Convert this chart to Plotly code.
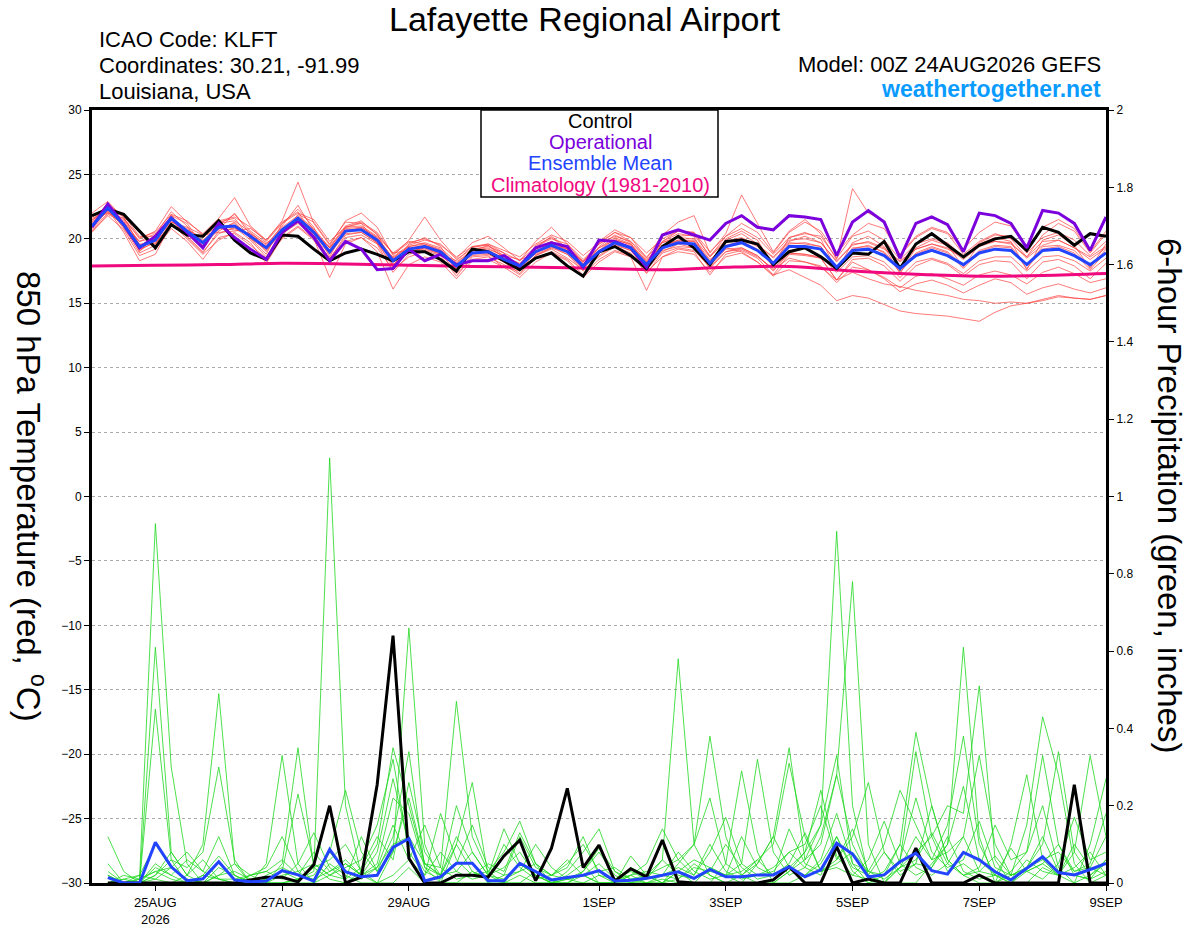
import pandas as pd
import plotly.graph_objects as go

# Time axis: GEFS 00Z 24AUG2026 run, 6-hourly out to 9SEP
times = pd.date_range("2026-08-24 00:00", "2026-09-09 00:00", freq="6h")
precip_times = times[1:]
clim_days = pd.date_range("2026-08-24", "2026-09-09", freq="D")

# 850 hPa temperature (C)
temp_control = [21.8, 22.3, 21.9, 20.6, 19.3, 21.1, 20.3, 20.2, 21.4, 19.9, 18.9, 18.4, 20.3, 20.2, 19.2, 18.3,
                18.9, 19.2, 18.8, 18.3, 19.0, 19.0, 18.4, 17.5, 19.2, 19.0, 18.3, 17.6, 18.5, 18.9, 17.9, 17.1,
                19.0, 19.4, 18.7, 17.7, 19.4, 20.2, 19.3, 18.0, 19.8, 19.9, 19.6, 18.0, 19.0, 19.3, 18.6, 17.7,
                18.9, 18.8, 19.8, 17.7, 19.6, 20.4, 19.5, 18.6, 19.5, 20.0, 20.2, 19.1, 20.9, 20.5, 19.5, 20.4, 20.2]
temp_oper = [20.9, 22.7, 21.1, 19.3, 20.2, 21.6, 20.5, 19.3, 21.2, 20.1, 19.2, 18.4, 20.5, 21.4, 20.1, 18.3,
             19.8, 19.2, 17.6, 17.7, 19.2, 18.3, 18.8, 18.0, 18.3, 18.3, 18.7, 17.9, 19.3, 19.7, 19.4, 17.8,
             19.9, 19.8, 19.3, 17.8, 20.3, 20.7, 20.3, 19.9, 21.2, 21.8, 20.9, 20.7, 21.8, 21.7, 21.5, 18.7,
             21.3, 22.2, 21.3, 18.5, 21.2, 21.7, 21.1, 19.0, 22.0, 21.8, 21.2, 19.3, 22.2, 22.0, 21.2, 19.1, 21.7]
temp_mean = [21.0, 22.4, 21.1, 19.4, 19.9, 21.6, 20.6, 19.7, 20.9, 21.0, 20.2, 19.3, 20.7, 21.6, 20.5, 19.0,
             20.6, 20.7, 19.9, 18.3, 19.2, 19.4, 19.0, 17.9, 18.9, 19.0, 18.4, 17.9, 19.0, 19.5, 19.0, 17.9,
             19.0, 19.7, 19.3, 18.0, 19.3, 19.7, 19.6, 18.1, 19.4, 19.7, 19.1, 18.1, 19.4, 19.4, 19.2, 17.8,
             19.1, 19.2, 18.7, 17.7, 18.7, 19.1, 18.7, 18.0, 18.9, 19.2, 19.1, 18.0, 19.1, 19.2, 18.7, 18.0, 18.9]
temp_clim = [17.9, 17.95, 18.0, 18.1, 18.05, 17.95, 17.85, 17.8, 17.7, 17.6, 17.8, 17.85, 17.5, 17.25, 17.1,
             17.15, 17.3]

# ensemble members, temperature
temp_m01 = [21.5, 22.0, 21.4, 19.0, 20.3, 22.1, 21.0, 19.2, 21.3, 21.6, 20.0, 18.8, 21.2, 22.3, 20.9, 18.6,
            20.9, 21.2, 20.4, 17.9, 19.6, 20.1, 19.4, 17.6, 19.3, 19.6, 18.9, 17.5, 19.5, 20.1, 19.2, 17.6,
            19.4, 20.3, 19.7, 17.6, 19.8, 20.4, 20.2, 17.9, 20.0, 20.6, 19.9, 17.9, 20.1, 20.5, 20.0, 17.5,
            19.7, 20.2, 19.4, 17.3, 19.3, 19.9, 19.5, 17.8, 19.6, 20.1, 19.8, 17.6, 19.9, 20.3, 19.5, 17.7, 19.6]
temp_m02 = [20.6, 21.8, 20.7, 18.7, 19.2, 20.8, 19.8, 18.4, 20.1, 20.4, 19.5, 18.5, 20.0, 20.9, 19.9, 18.2,
            19.8, 20.1, 19.3, 17.6, 18.6, 19.0, 18.5, 17.3, 18.4, 18.6, 18.0, 17.2, 18.5, 19.0, 18.4, 17.2,
            18.4, 19.1, 18.7, 17.4, 18.6, 19.0, 18.8, 17.4, 18.6, 18.9, 18.2, 17.1, 18.3, 18.2, 17.9, 16.6,
            17.8, 17.6, 16.9, 15.9, 16.5, 16.8, 16.4, 15.8, 16.4, 16.9, 16.6, 15.7, 16.2, 16.5, 16.1, 15.8, 16.2]
temp_m03 = [21.2, 22.6, 21.0, 19.8, 20.1, 21.4, 20.3, 19.9, 21.0, 20.8, 20.4, 19.6, 20.9, 21.8, 20.8, 19.3,
            20.8, 20.9, 20.1, 18.5, 19.4, 19.7, 19.3, 18.2, 19.1, 19.3, 18.6, 18.1, 19.2, 19.8, 19.1, 18.3,
            19.3, 19.9, 19.6, 18.3, 19.5, 19.9, 19.9, 18.4, 19.3, 19.0, 18.2, 17.2, 17.6, 17.0, 16.4, 15.2,
            15.6, 15.4, 14.9, 14.4, 14.2, 14.1, 14.0, 13.8, 13.6, 14.3, 14.8, 15.0, 15.3, 15.6, 15.4, 15.3, 15.6]
temp_m04 = [22.0, 22.9, 21.6, 20.0, 20.6, 22.5, 21.3, 20.4, 21.6, 23.2, 21.0, 19.9, 21.4, 24.4, 21.2, 19.5,
            21.4, 22.0, 20.9, 18.7, 19.9, 21.7, 19.9, 18.5, 19.7, 20.2, 19.3, 18.3, 19.8, 20.9, 19.6, 18.2,
            19.8, 20.7, 20.1, 18.5, 20.3, 21.3, 21.8, 18.9, 20.4, 23.4, 21.2, 19.0, 20.6, 21.5, 20.4, 18.4,
            23.9, 22.0, 21.4, 18.7, 20.1, 20.8, 20.4, 18.8, 19.8, 20.4, 20.0, 18.6, 20.3, 21.2, 20.6, 18.9, 20.4]
temp_m05 = [20.8, 22.2, 21.5, 19.6, 19.6, 21.3, 20.9, 20.3, 20.5, 20.6, 20.8, 19.9, 21.3, 22.1, 20.2, 19.4,
            21.0, 21.4, 20.3, 18.9, 19.1, 19.2, 18.8, 18.3, 19.4, 19.5, 18.7, 18.4, 18.8, 19.3, 19.4, 18.2,
            19.6, 20.5, 19.8, 18.6, 19.7, 20.2, 20.3, 18.7, 19.9, 20.4, 19.6, 18.5, 19.8, 20.2, 19.7, 18.3,
            19.5, 19.8, 19.3, 18.2, 19.2, 19.6, 19.3, 18.4, 19.4, 19.8, 19.7, 18.5, 19.5, 19.9, 19.3, 18.4, 19.3]
temp_m06 = [21.3, 22.8, 20.9, 18.9, 19.5, 21.9, 20.1, 18.9, 20.6, 21.3, 20.0, 19.2, 20.4, 21.2, 20.1, 18.5,
            20.1, 20.3, 19.6, 17.4, 18.8, 19.1, 18.7, 17.1, 18.6, 18.7, 17.8, 17.5, 18.7, 19.2, 18.5, 17.6,
            18.6, 19.4, 18.9, 17.3, 18.9, 19.3, 19.1, 17.8, 19.0, 19.2, 18.6, 17.7, 18.9, 18.8, 18.6, 17.4,
            18.6, 18.7, 18.2, 17.0, 18.2, 18.5, 18.1, 17.3, 18.3, 18.6, 18.6, 17.5, 18.6, 18.7, 18.3, 17.5, 18.5]
temp_m07 = [20.5, 21.9, 21.3, 19.8, 20.4, 21.0, 20.7, 20.1, 21.1, 21.9, 20.6, 19.7, 20.2, 21.9, 21.3, 19.6,
            21.3, 21.2, 19.6, 18.6, 19.5, 19.9, 19.6, 18.4, 19.2, 19.4, 18.9, 18.3, 19.4, 20.0, 19.6, 18.4,
            19.6, 20.2, 19.8, 18.4, 19.7, 20.1, 20.0, 18.6, 19.8, 20.1, 19.5, 18.6, 19.9, 20.0, 19.7, 18.2,
            19.6, 19.7, 19.2, 18.3, 19.2, 19.6, 19.2, 18.6, 19.6, 19.8, 19.6, 18.6, 19.8, 19.9, 19.3, 18.6, 19.4]
temp_m08 = [20.9, 22.3, 20.5, 18.3, 18.8, 21.2, 20.0, 18.8, 19.9, 20.5, 19.7, 18.1, 20.1, 21.0, 20.0, 17.0,
            19.6, 20.1, 19.0, 16.1, 18.0, 18.6, 18.2, 16.9, 18.3, 18.4, 17.8, 17.0, 18.2, 18.9, 18.3, 17.0,
            18.2, 19.0, 18.6, 16.0, 18.6, 19.2, 19.0, 17.2, 18.8, 19.1, 18.5, 17.2, 18.8, 18.7, 18.5, 16.8,
            18.4, 18.5, 17.9, 16.7, 17.9, 18.4, 18.0, 17.1, 18.0, 18.3, 18.2, 16.9, 18.2, 18.4, 17.9, 16.9, 18.1]
temp_m09 = [21.6, 22.1, 21.8, 20.2, 20.2, 21.8, 21.2, 19.4, 21.2, 21.4, 20.5, 19.5, 21.0, 22.6, 20.6, 19.3,
            20.9, 21.0, 20.2, 18.9, 19.8, 19.6, 19.2, 17.9, 19.0, 19.5, 18.5, 18.0, 19.3, 20.2, 19.3, 18.1,
            19.1, 20.0, 19.5, 18.2, 19.5, 19.8, 19.8, 18.3, 19.7, 20.0, 19.4, 18.2, 19.7, 19.6, 19.4, 17.7,
            19.3, 19.4, 19.0, 17.6, 18.9, 19.4, 19.0, 17.9, 19.1, 19.5, 19.4, 17.9, 19.4, 19.5, 19.1, 17.8, 19.2]
temp_m10 = [21.0, 22.5, 21.2, 19.1, 19.8, 21.5, 20.4, 19.5, 20.7, 22.0, 20.3, 19.0, 20.8, 21.4, 20.2, 18.8,
            20.4, 20.5, 19.7, 18.0, 19.0, 19.3, 18.9, 17.7, 18.8, 18.9, 18.2, 17.6, 18.9, 19.4, 18.8, 17.7,
            18.9, 19.6, 19.1, 17.8, 19.1, 19.4, 19.3, 17.9, 19.2, 19.3, 18.7, 17.6, 18.5, 18.2, 17.8, 16.8,
            17.4, 16.9, 16.5, 16.3, 16.0, 15.8, 15.6, 15.3, 15.2, 15.0, 15.1, 15.0, 15.2, 15.5, 15.4, 15.3, 15.6]
temp_m11 = [21.4, 22.7, 21.7, 19.5, 20.0, 21.7, 20.5, 19.6, 20.8, 21.2, 20.1, 19.1, 20.6, 21.7, 20.7, 18.9,
            20.7, 20.8, 20.0, 18.2, 19.3, 19.5, 19.1, 17.8, 18.9, 19.1, 18.5, 17.8, 19.1, 19.6, 19.2, 17.8,
            19.1, 19.8, 19.4, 17.9, 19.4, 19.9, 19.8, 18.0, 19.5, 19.8, 19.2, 17.9, 19.6, 19.7, 19.4, 17.6,
            19.2, 19.5, 18.9, 17.4, 18.8, 19.3, 18.9, 17.7, 19.0, 19.4, 19.3, 17.7, 19.2, 19.4, 18.9, 17.6, 19.0]
temp_m12 = [21.1, 22.1, 21.0, 19.5, 20.0, 21.3, 20.8, 19.8, 20.8, 20.7, 20.4, 19.4, 20.8, 21.4, 20.6, 19.3,
            20.5, 20.9, 20.1, 18.5, 19.4, 19.6, 19.1, 18.1, 19.1, 19.2, 18.7, 18.0, 19.2, 19.8, 19.2, 18.0,
            19.3, 20.1, 19.6, 18.2, 19.8, 20.6, 20.5, 18.6, 20.2, 21.2, 20.5, 18.9, 20.5, 21.3, 20.6, 18.9,
            20.3, 21.2, 20.8, 18.8, 20.2, 20.9, 20.5, 19.2, 20.5, 21.3, 21.0, 19.3, 20.9, 21.5, 20.8, 19.0, 20.6]
temp_m13 = [21.7, 22.4, 20.8, 19.2, 19.7, 21.1, 20.2, 19.0, 20.4, 20.9, 19.9, 18.6, 20.5, 21.3, 20.3, 18.4,
            20.3, 20.5, 19.7, 17.8, 19.0, 19.3, 18.8, 17.5, 18.7, 18.8, 18.2, 17.3, 18.7, 19.3, 18.8, 17.5,
            18.7, 19.5, 19.1, 17.6, 19.0, 19.6, 19.3, 17.7, 19.0, 19.3, 18.7, 17.5, 18.9, 18.8, 18.5, 16.8,
            18.2, 17.6, 17.0, 16.2, 17.1, 17.3, 16.9, 16.4, 17.2, 17.5, 17.2, 16.5, 17.4, 17.8, 17.3, 16.6, 16.9]
temp_m14 = [20.7, 22.0, 21.6, 20.1, 20.5, 21.9, 21.4, 20.3, 21.4, 21.7, 20.9, 19.8, 21.2, 22.0, 21.5, 19.8,
            20.9, 21.3, 20.5, 18.8, 19.7, 20.0, 19.5, 18.6, 19.4, 19.6, 19.1, 18.6, 19.6, 20.3, 19.8, 18.7,
            19.7, 20.5, 20.1, 18.9, 20.0, 20.6, 20.5, 19.0, 20.2, 20.8, 20.1, 18.8, 20.1, 20.4, 20.2, 18.5,
            20.2, 20.6, 19.9, 18.4, 19.6, 20.0, 19.7, 18.6, 19.7, 20.3, 20.2, 18.9, 20.1, 20.5, 19.9, 18.7, 19.8]

# 6-hour precipitation (inches), 06Z 24AUG .. 00Z 9SEP
precip_control = [0, 0, 0, 0, 0, 0, 0, 0, 0, 0.008, 0.015, 0.015, 0.003, 0.047, 0.20, 0,
                  0.015, 0.255, 0.64, 0.064, 0, 0, 0.02, 0.02, 0.015, 0.07, 0.111, 0.006, 0.09, 0.245, 0.04, 0.098,
                  0.005, 0.037, 0.016, 0.111, 0.003, 0, 0, 0, 0, 0, 0.008, 0.042, 0, 0, 0.094, 0,
                  0.01, 0, 0, 0.09, 0, 0, 0, 0.02, 0, 0, 0, 0, 0, 0.254, 0, 0]
precip_mean = [0.014, 0, 0, 0.105, 0.042, 0.006, 0.011, 0.055, 0.008, 0.003, 0.005, 0.032, 0.021, 0.005, 0.087, 0.029,
               0.016, 0.02, 0.092, 0.115, 0.005, 0.016, 0.051, 0.051, 0.006, 0.006, 0.051, 0.029, 0.008, 0.014, 0.02, 0.032,
               0.005, 0.007, 0.012, 0.02, 0.029, 0.012, 0.035, 0.016, 0.016, 0.021, 0.021, 0.042, 0.016, 0.034, 0.103, 0.075,
               0.016, 0.021, 0.055, 0.077, 0.032, 0.023, 0.079, 0.06, 0.029, 0.008, 0.038, 0.068, 0.027, 0.021, 0.035, 0.051]

# ensemble members, precipitation
precip_m01 = [0, 0, 0.01, 0.93, 0.30, 0.05, 0, 0, 0, 0, 0, 0, 0.01, 0.03, 1.10, 0.20,
              0.02, 0, 0, 0.04, 0, 0, 0, 0, 0, 0, 0.02, 0, 0, 0, 0, 0,
              0, 0, 0.01, 0.06, 0.58, 0.10, 0.02, 0, 0, 0, 0, 0.03, 0.08, 0.15, 0.91, 0.20,
              0.02, 0, 0, 0, 0.05, 0.10, 0.61, 0.12, 0, 0.03, 0.08, 0.20, 0.04, 0, 0.02, 0.05]
precip_m02 = [0.02, 0, 0, 0.61, 0.08, 0.02, 0.10, 0.49, 0.05, 0, 0, 0, 0, 0, 0.05, 0.02,
              0, 0, 0.08, 0.66, 0.10, 0, 0, 0.03, 0.01, 0, 0, 0, 0, 0, 0.02, 0,
              0, 0, 0, 0, 0.03, 0, 0.04, 0.02, 0, 0.05, 0.12, 0.35, 0.06, 0.10, 0.28, 0.78,
              0.10, 0, 0.04, 0.08, 0.12, 0.20, 0.18, 0.51, 0.06, 0, 0, 0.04, 0.02, 0, 0.10, 0.27]
precip_m03 = [0, 0, 0, 0.45, 0.06, 0.04, 0.08, 0.30, 0.06, 0, 0, 0.05, 0.35, 0.04, 0.01, 0,
              0.03, 0.10, 0.35, 0.20, 0.05, 0.04, 0.47, 0.12, 0.03, 0, 0.05, 0.02, 0, 0, 0.03, 0.08,
              0.02, 0, 0, 0.01, 0, 0, 0, 0.05, 0.29, 0.08, 0, 0, 0.02, 0.05, 0.12, 0.03,
              0, 0.02, 0.10, 0.39, 0.20, 0.06, 0.02, 0, 0, 0.02, 0.15, 0.43, 0.28, 0.05, 0, 0.02]
precip_m04 = [0.12, 0.03, 0, 0.02, 0.06, 0, 0, 0.04, 0.02, 0, 0.05, 0.33, 0.05, 0, 0.08, 0.24,
              0.08, 0.03, 0.12, 0.34, 0.04, 0, 0.10, 0.26, 0.02, 0, 0, 0.03, 0, 0.02, 0.05, 0,
              0, 0.02, 0, 0, 0.05, 0.10, 0.38, 0.12, 0.02, 0, 0, 0.03, 0.06, 0.15, 0.33, 0.05,
              0, 0, 0.04, 0.12, 0.06, 0.15, 0.38, 0.10, 0.02, 0, 0.04, 0.10, 0.34, 0.08, 0.02, 0.06]
precip_m05 = [0.05, 0, 0, 0.04, 0.02, 0.06, 0.03, 0.12, 0.02, 0, 0.01, 0.03, 0.23, 0.05, 0.02, 0.04,
              0.06, 0.15, 0.32, 0.08, 0.02, 0.18, 0.06, 0.02, 0.03, 0.08, 0.16, 0.05, 0, 0.01, 0, 0.02,
              0, 0.04, 0.02, 0, 0.03, 0.06, 0.04, 0.02, 0.05, 0.32, 0.08, 0.02, 0.04, 0.12, 0.28, 0.10,
              0.02, 0, 0.06, 0.34, 0.12, 0.03, 0.05, 0.02, 0, 0.10, 0.28, 0.06, 0.02, 0.08, 0.33, 0.12]
precip_m06 = [0, 0.02, 0.01, 0.03, 0.04, 0.08, 0.03, 0.01, 0, 0.02, 0.03, 0.01, 0.05, 0.13, 0.04, 0.01,
              0.12, 0.03, 0.08, 0.22, 0.05, 0.02, 0.20, 0.08, 0.02, 0.14, 0.05, 0.02, 0, 0.03, 0.08, 0.14,
              0.03, 0, 0.02, 0.04, 0.06, 0.10, 0.22, 0.05, 0.02, 0.06, 0.10, 0.31, 0.12, 0.03, 0.05, 0.08,
              0.03, 0.10, 0.24, 0.15, 0.06, 0.08, 0.12, 0.33, 0.10, 0.02, 0.04, 0.06, 0.08, 0.03, 0.05, 0.18]
precip_m07 = [0, 0, 0.02, 0.10, 0.04, 0.01, 0, 0.02, 0.05, 0.02, 0.04, 0.12, 0.03, 0, 0.02, 0.05,
              0.02, 0.08, 0.27, 0.10, 0.03, 0.01, 0.05, 0.15, 0.04, 0.02, 0.12, 0.04, 0.02, 0.05, 0.10, 0.03,
              0, 0.02, 0.05, 0.14, 0.06, 0.02, 0.08, 0.17, 0.05, 0.02, 0.04, 0.08, 0.10, 0.20, 0.06, 0.12,
              0.26, 0.08, 0.02, 0.05, 0.04, 0.10, 0.25, 0.06, 0.02, 0, 0.03, 0.05, 0.02, 0.10, 0.04, 0.02]
precip_m08 = [0, 0.01, 0.02, 0.01, 0, 0.02, 0.06, 0.01, 0, 0, 0.02, 0.04, 0.02, 0.08, 0.03, 0.06,
              0.02, 0.05, 0.22, 0.18, 0.04, 0.02, 0.12, 0.05, 0, 0.02, 0.03, 0.10, 0.04, 0.01, 0.03, 0.09,
              0.03, 0.01, 0, 0.02, 0.01, 0.05, 0.02, 0, 0.02, 0.05, 0.12, 0.04, 0.02, 0.06, 0.18, 0.05,
              0.03, 0.01, 0.04, 0.06, 0.13, 0.05, 0.02, 0.04, 0.15, 0.06, 0.08, 0.33, 0.10, 0.02, 0.01, 0.03]
precip_m09 = [0.03, 0, 0, 0.02, 0.08, 0.02, 0, 0, 0, 0.02, 0, 0, 0.01, 0.04, 0.06, 0.10,
              0.03, 0, 0.02, 0.06, 0.15, 0.04, 0.01, 0.02, 0.05, 0.03, 0.13, 0.05, 0.02, 0.06, 0.02, 0,
              0, 0.07, 0.02, 0, 0.01, 0.04, 0.03, 0.10, 0.04, 0.01, 0.02, 0.05, 0.13, 0.03, 0.04, 0.02,
              0.06, 0.16, 0.05, 0.02, 0.04, 0.12, 0.03, 0.01, 0.02, 0.09, 0.03, 0.01, 0.05, 0.17, 0.06, 0.08]
precip_m10 = [0, 0.01, 0, 0.05, 0.02, 0, 0.02, 0.07, 0.02, 0, 0.01, 0.03, 0.01, 0.02, 0.08, 0.03,
              0.01, 0.04, 0.15, 0.06, 0.02, 0.08, 0.03, 0.01, 0.02, 0.04, 0.08, 0.02, 0, 0.01, 0.02, 0.03,
              0.04, 0.01, 0.02, 0.06, 0.02, 0.01, 0.03, 0.02, 0.12, 0.04, 0.02, 0.14, 0.05, 0.03, 0.06, 0.14,
              0.03, 0.02, 0.06, 0.22, 0.08, 0.04, 0.06, 0.16, 0.04, 0.02, 0.03, 0.05, 0.10, 0.03, 0.04, 0.12]
precip_m11 = [0, 0, 0.01, 0.03, 0.01, 0, 0.02, 0.01, 0.01, 0.02, 0.03, 0.06, 0.02, 0.01, 0.03, 0.05,
              0.02, 0.04, 0.10, 0.12, 0.05, 0.02, 0.10, 0.03, 0.01, 0.10, 0.04, 0.01, 0.02, 0.04, 0.12, 0.02,
              0.01, 0.02, 0.03, 0.02, 0.08, 0.03, 0.01, 0.02, 0.03, 0.06, 0.02, 0.04, 0.08, 0.24, 0.07, 0.02,
              0.01, 0.03, 0.10, 0.04, 0.02, 0.05, 0.12, 0.03, 0.02, 0.01, 0.06, 0.03, 0.02, 0.04, 0.08, 0.02]
precip_m12 = [0.02, 0, 0, 0.01, 0.04, 0.01, 0, 0.02, 0.03, 0.01, 0, 0.02, 0.03, 0.05, 0.02, 0.01,
              0.04, 0.12, 0.06, 0.26, 0.08, 0.02, 0.03, 0.08, 0.02, 0.01, 0.03, 0.05, 0.02, 0.01, 0.02, 0.05,
              0.01, 0.03, 0.01, 0.02, 0.04, 0.02, 0.10, 0.03, 0.01, 0.02, 0.03, 0.08, 0.04, 0.02, 0.12, 0.04,
              0.02, 0.08, 0.03, 0.05, 0.20, 0.06, 0.02, 0.03, 0.07, 0.02, 0.04, 0.12, 0.03, 0.02, 0.01, 0.06]

tick_dates = ["2026-08-25", "2026-08-27", "2026-08-29", "2026-09-01", "2026-09-03",
              "2026-09-05", "2026-09-07", "2026-09-09"]
tick_labels = ["25AUG<br>2026", "27AUG", "29AUG", "1SEP", "3SEP", "5SEP", "7SEP", "9SEP"]

temp_members = [temp_m01, temp_m02, temp_m03, temp_m04, temp_m05, temp_m06, temp_m07,
                temp_m08, temp_m09, temp_m10, temp_m11, temp_m12, temp_m13, temp_m14]
precip_members = [precip_m01, precip_m02, precip_m03, precip_m04, precip_m05, precip_m06,
                  precip_m07, precip_m08, precip_m09, precip_m10, precip_m11, precip_m12]

FONT = "Liberation Sans, Arial, Helvetica, sans-serif"
# plot area in pixels: x 92..1106, y 110..883
W, H = 1200, 927
L, R, T, B = 92, 1106, 110, 883


def px(x):
    return (x - L) / (R - L)


def py(y):
    return (B - y) / (B - T)


fig = go.Figure()

for m in temp_members:
    fig.add_trace(go.Scatter(x=times, y=m, mode="lines", line=dict(color="#FF3B3B", width=0.8),
                             opacity=0.85, showlegend=False, hoverinfo="skip"))
fig.add_trace(go.Scatter(x=clim_days, y=temp_clim, mode="lines",
                         line=dict(color="#F0087F", width=3, shape="spline"), showlegend=False))
fig.add_trace(go.Scatter(x=times, y=temp_control, mode="lines", line=dict(color="black", width=3),
                         showlegend=False))
fig.add_trace(go.Scatter(x=times, y=temp_oper, mode="lines", line=dict(color="#7A00DC", width=3),
                         showlegend=False))
fig.add_trace(go.Scatter(x=times, y=temp_mean, mode="lines", line=dict(color="#2244FF", width=3),
                         showlegend=False))

# precipitation on the right axis
for m in precip_members:
    fig.add_trace(go.Scatter(x=precip_times, y=m, yaxis="y2", mode="lines",
                             line=dict(color="#1FD81F", width=0.8), showlegend=False, hoverinfo="skip"))
fig.add_trace(go.Scatter(x=precip_times, y=precip_control, yaxis="y2", mode="lines",
                         line=dict(color="black", width=3), showlegend=False))
fig.add_trace(go.Scatter(x=precip_times, y=precip_mean, yaxis="y2", mode="lines",
                         line=dict(color="#2244FF", width=3), showlegend=False))

fig.update_layout(
    width=W, height=H,
    margin=dict(l=L, r=W - R, t=T, b=H - B, autoexpand=False),
    paper_bgcolor="white", plot_bgcolor="white",
    font=dict(family=FONT, color="black", size=12),
    showlegend=False,
    xaxis=dict(type="date", range=[times[0], times[-1]], tickvals=tick_dates, ticktext=tick_labels,
               showgrid=False, zeroline=False, showline=True, linewidth=3, linecolor="black",
               mirror=True, ticks="outside", ticklen=5, tickwidth=1, tickcolor="black",
               tickfont=dict(size=13), automargin=False),
    yaxis=dict(range=[-30, 30], tickvals=list(range(-30, 31, 5)), showgrid=True,
               gridcolor="#AAAAAA", griddash="dot", gridwidth=1, zeroline=False,
               showline=True, linewidth=3, linecolor="black", ticks="outside", ticklen=5,
               tickwidth=1, tickcolor="black", tickfont=dict(size=12), automargin=False),
    yaxis2=dict(range=[0, 2], overlaying="y", side="right",
                tickvals=[0, 0.2, 0.4, 0.6, 0.8, 1, 1.2, 1.4, 1.6, 1.8, 2],
                ticktext=["0", "0.2", "0.4", "0.6", "0.8", "1", "1.2", "1.4", "1.6", "1.8", "2"],
                showgrid=False, zeroline=False, showline=True, linewidth=3, linecolor="black",
                ticks="outside", ticklen=5, tickwidth=1, tickcolor="black", tickfont=dict(size=12),
                automargin=False),
)

# legend box
fig.add_shape(type="rect", xref="paper", yref="paper", x0=px(481), x1=px(718), y0=py(197), y1=py(110),
              fillcolor="white", line=dict(color="black", width=1.5), layer="above")

notes = [
    ("Control", "black", 121),
    ("Operational", "#7A00DC", 142),
    ("Ensemble Mean", "#2244FF", 163),
    ("Climatology (1981-2010)", "#F0087F", 185),
]
for txt, col, yy in notes:
    fig.add_annotation(x=px(600), y=py(yy), xref="paper", yref="paper", text=txt, showarrow=False,
                       xanchor="center", yanchor="middle", font=dict(size=20, color=col))

# header text
fig.add_annotation(x=px(585), y=py(19), xref="paper", yref="paper", text="Lafayette Regional Airport",
                   showarrow=False, xanchor="center", yanchor="middle", font=dict(size=34))
for txt, yy in [("ICAO Code: KLFT", 40), ("Coordinates: 30.21, -91.99", 66), ("Louisiana, USA", 92)]:
    fig.add_annotation(x=px(97), y=py(yy), xref="paper", yref="paper", text=txt, showarrow=False,
                       xanchor="left", yanchor="middle", font=dict(size=22))
fig.add_annotation(x=px(1103), y=py(64), xref="paper", yref="paper", text="Model: 00Z 24AUG2026 GEFS",
                   showarrow=False, xanchor="right", yanchor="middle", font=dict(size=22))
fig.add_annotation(x=px(1103), y=py(89), xref="paper", yref="paper", text="<b>weathertogether.net</b>",
                   showarrow=False, xanchor="right", yanchor="middle", font=dict(size=23, color="#0A9BFF"))

# axis titles (both read top to bottom)
fig.add_annotation(x=px(31), y=py(496), xref="paper", yref="paper",
                   text="850 hPa Temperature (red, <sup>o</sup>C)", textangle=90, showarrow=False,
                   xanchor="center", yanchor="middle", font=dict(size=33))
fig.add_annotation(x=px(1170), y=py(495), xref="paper", yref="paper",
                   text="6-hour Precipitation (green, inches)", textangle=90, showarrow=False,
                   xanchor="center", yanchor="middle", font=dict(size=33))

# drop the default page margin so the figure sits at the window's top-left corner
fig.write_html("out.html", config={"displayModeBar": False},
               post_script="document.body.style.margin='0';document.body.style.overflow='hidden';")
